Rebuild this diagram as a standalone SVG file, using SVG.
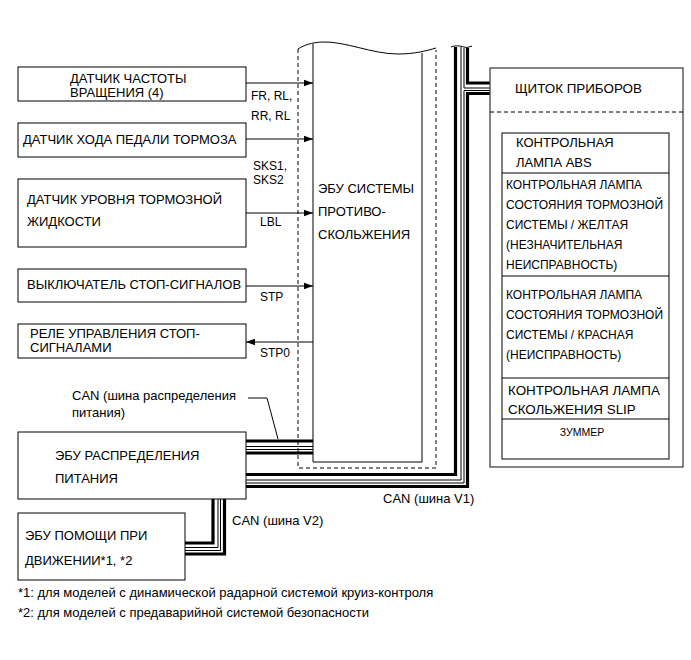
<svg xmlns="http://www.w3.org/2000/svg" width="691" height="660" viewBox="0 0 691 660">
<defs>
<marker id="arr" markerWidth="10" markerHeight="8" refX="9" refY="4" orient="auto" markerUnits="userSpaceOnUse">
<path d="M0,0.8 L9,4 L0,7.2 Z" fill="#000"/>
</marker>
<style>
text{font-family:"Liberation Sans",Arial,sans-serif;font-size:13px;fill:#000}
.sm{font-size:12px}
.xs{font-size:10.5px}
.lg{font-size:13.4px}
.box{fill:#fff;stroke:#000;stroke-width:1}
.ln{fill:none;stroke:#000;stroke-width:1}
.dash{fill:none;stroke:#000;stroke-width:1;stroke-dasharray:4 3}
.thick{fill:none;stroke:#000;stroke-width:3.2}
.thin{fill:none;stroke:#000;stroke-width:1}
</style>
</defs>
<rect width="691" height="660" fill="#fff"/>

<g id="connectors">
<line class="ln" x1="246" y1="83" x2="313" y2="83" marker-end="url(#arr)"/>
<line class="ln" x1="246" y1="139" x2="313" y2="139" marker-end="url(#arr)"/>
<line class="ln" x1="246" y1="213" x2="313" y2="213" marker-end="url(#arr)"/>
<line class="ln" x1="246" y1="286" x2="313" y2="286" stroke="#555" marker-end="url(#arr)"/>
<line class="ln" x1="313" y1="342" x2="246" y2="342" marker-end="url(#arr)"/>
<text class="sm" x="251" y="100">FR, RL,</text>
<text class="sm" x="251" y="120">RR, RL</text>
<text class="sm" x="253" y="170">SKS1,</text>
<text class="sm" x="253" y="184">SKS2</text>
<text class="sm" x="260" y="226">LBL</text>
<text class="sm" x="260" y="301">STP</text>
<text class="sm" x="260" y="357">STP0</text>
<!-- bus A power distribution to ABS ECU -->
<line class="thick" x1="246" y1="441" x2="313" y2="441"/>
<line class="thin" x1="246" y1="446.5" x2="313" y2="446.5"/>
<line class="thin" x1="246" y1="449.5" x2="313" y2="449.5"/>
<line class="thick" x1="246" y1="453" x2="313" y2="453"/>
<text x="72" y="400">CAN (шина распределения</text>
<text x="72" y="417">питания)</text>
<path class="ln" d="M248,398 L267,398 L278,439"/>
<!-- bus B CAN V1 -->
<path class="thick" d="M246,474.5 H455.5 V47"/>
<path class="thin" d="M246,480 H461 V47"/>
<path class="thin" d="M246,483 H464 V90.5 H490"/>
<path class="thick" d="M246,486.5 H467.5 V93.5 H490"/>
<path class="thin" d="M464,48 V88 H490"/>
<path class="thick" d="M467.5,48 V83 H490"/>
<path class="ln" d="M451,47 C456,45 460,46 464,47 C467,48 469,47 472,46"/>
<text x="383" y="503">CAN (шина V1)</text>
<!-- bus C CAN V2 -->
<path class="thick" d="M213,499 V543 H185"/>
<path class="thin" d="M218,499 V547.5 H185"/>
<path class="thin" d="M220.5,499 V550.5 H185"/>
<path class="thick" d="M224.5,499 V554 H185"/>
<text x="232" y="525">CAN (шина V2)</text>
</g>

<g id="abs-ecu">
<path class="dash" d="M298,49 V468 H436 V50"/>
<path class="ln" d="M313,44 V462 H422 V53"/>
<path class="ln" d="M298,49 C304,45 312,42.5 322,42 C345,41 372,54 398,54 C414,54 426,51 436,48"/>
<text x="318" y="193">ЭБУ СИСТЕМЫ</text>
<text x="318" y="216">ПРОТИВО-</text>
<text x="318" y="239">СКОЛЬЖЕНИЯ</text>
</g>

<g id="speed-sensor">
<rect class="box" x="18" y="67" width="228" height="34"/>
<text x="70" y="83">ДАТЧИК ЧАСТОТЫ</text>
<text x="70" y="97">ВРАЩЕНИЯ (4)</text>
</g>
<g id="pedal-sensor">
<rect class="box" x="18" y="123" width="228" height="34"/>
<text x="23" y="144">ДАТЧИК ХОДА ПЕДАЛИ ТОРМОЗА</text>
</g>
<g id="fluid-sensor">
<rect class="box" x="18" y="179" width="228" height="68"/>
<text x="27" y="204">ДАТЧИК УРОВНЯ ТОРМОЗНОЙ</text>
<text x="27" y="226">ЖИДКОСТИ</text>
</g>
<g id="stop-switch">
<rect class="box" x="18" y="269" width="228" height="33"/>
<text x="27" y="289">ВЫКЛЮЧАТЕЛЬ СТОП-СИГНАЛОВ</text>
</g>
<g id="stop-relay">
<rect class="box" x="18" y="324" width="228" height="34"/>
<text x="30" y="338">РЕЛЕ УПРАВЛЕНИЯ СТОП-</text>
<text x="30" y="352">СИГНАЛАМИ</text>
</g>
<g id="power-ecu">
<rect class="box" x="18" y="432" width="228" height="67"/>
<text x="55" y="460">ЭБУ РАСПРЕДЕЛЕНИЯ</text>
<text x="55" y="483">ПИТАНИЯ</text>
</g>
<g id="assist-ecu">
<rect class="box" x="18" y="513" width="167" height="67"/>
<text x="25" y="540">ЭБУ ПОМОЩИ ПРИ</text>
<text x="25" y="565">ДВИЖЕНИИ*1, *2</text>
</g>

<g id="instrument-panel">
<rect x="490" y="68" width="193" height="399" fill="none" stroke="#444" stroke-width="1.3"/>
<text class="lg" x="515" y="93">ЩИТОК ПРИБОРОВ</text>
<line class="dash" x1="490" y1="112" x2="683" y2="112"/>
<rect class="box" x="502" y="133" width="167" height="326"/>
<line class="ln" x1="502" y1="173" x2="669" y2="173"/>
<line class="ln" x1="502" y1="276" x2="669" y2="276"/>
<line class="ln" x1="502" y1="378" x2="669" y2="378"/>
<line class="ln" x1="502" y1="419" x2="669" y2="419"/>
<text x="516" y="147">КОНТРОЛЬНАЯ</text>
<text x="516" y="167">ЛАМПА ABS</text>
<text class="sm" x="506" y="189">КОНТРОЛЬНАЯ ЛАМПА</text>
<text class="sm" x="506" y="209">СОСТОЯНИЯ ТОРМОЗНОЙ</text>
<text class="sm" x="506" y="229">СИСТЕМЫ / ЖЕЛТАЯ</text>
<text class="sm" x="506" y="249">(НЕЗНАЧИТЕЛЬНАЯ</text>
<text class="sm" x="506" y="269">НЕИСПРАВНОСТЬ)</text>
<text class="sm" x="506" y="299">КОНТРОЛЬНАЯ ЛАМПА</text>
<text class="sm" x="506" y="319">СОСТОЯНИЯ ТОРМОЗНОЙ</text>
<text class="sm" x="506" y="339">СИСТЕМЫ / КРАСНАЯ</text>
<text class="sm" x="506" y="359">(НЕИСПРАВНОСТЬ)</text>
<text class="lg" x="508" y="395">КОНТРОЛЬНАЯ ЛАМПА</text>
<text class="lg" x="508" y="414">СКОЛЬЖЕНИЯ SLIP</text>
<text class="xs" x="582" y="436" text-anchor="middle">ЗУММЕР</text>
</g>

<g id="footnotes">
<text x="18" y="597">*1: для моделей с динамической радарной системой круиз-контроля</text>
<text x="18" y="617">*2: для моделей с предаварийной системой безопасности</text>
</g>
</svg>
